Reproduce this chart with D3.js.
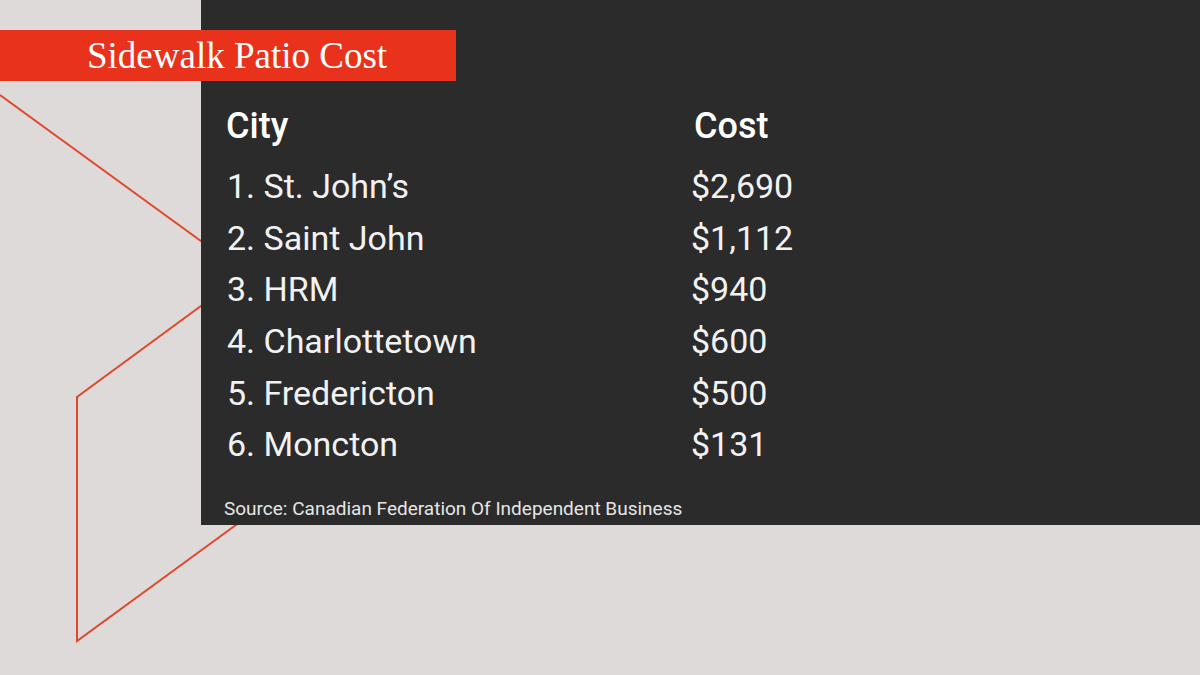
<!DOCTYPE html>
<html><head><meta charset="utf-8">
<script src="https://cdn.jsdelivr.net/npm/d3@7"></script>
<style>body{margin:0;background:#dddad9;}</style>
</head><body>
<script>
const title = "Sidewalk Patio Cost";
const headers = ["City", "Cost"];
const cities = ["St. John’s", "Saint John", "HRM", "Charlottetown", "Fredericton", "Moncton"];
const costs = [2690, 1112, 940, 600, 500, 131];
const source = "Source: Canadian Federation Of Independent Business";

const W = 1200, H = 675;
const svg = d3.select("body").append("svg").attr("width", W).attr("height", H);
svg.append("rect").attr("width", W).attr("height", H).attr("fill", "#dddad9");

// decorative lines
const lc = "#e0472c";
svg.append("path").attr("d", "M0,95 L205,244").attr("stroke", lc).attr("stroke-width", 2).attr("fill", "none");
svg.append("path").attr("d", "M205,303 L77,397 L77,641 L240,522").attr("stroke", lc).attr("stroke-width", 2).attr("fill", "none");

// dark panel
svg.append("rect").attr("x", 201).attr("y", 0).attr("width", 999).attr("height", 525).attr("fill", "#2b2b2b");

// title bar
svg.append("rect").attr("x", 0).attr("y", 30).attr("width", 456).attr("height", 51).attr("fill", "#e8321b");
svg.append("text").attr("x", 87).attr("y", 68).text(title)
  .attr("font-family", "Liberation Serif, DejaVu Serif, serif").attr("font-size", 37).attr("fill", "#fff");

const y = d3.scaleBand().domain(d3.range(cities.length)).range([160, 470]);
const font = "Roboto, sans-serif";
svg.append("text").attr("x", 226).attr("y", 138).text(headers[0]).attr("font-family", font).attr("font-weight", 500).attr("font-size", 36).attr("fill", "#fff");
svg.append("text").attr("x", 694).attr("y", 138).text(headers[1]).attr("font-family", font).attr("font-weight", 500).attr("font-size", 36).attr("fill", "#fff");

const fmt = d3.format("$,");
const rows = svg.selectAll("g.row").data(cities).join("g").attr("class", "row")
  .attr("transform", (d, i) => `translate(0,${y(i) + y.bandwidth() / 2 + 12})`);
rows.append("text").attr("x", 227).text((d, i) => `${i + 1}. ${d}`)
  .attr("font-family", font).attr("font-size", 34).attr("fill", "#f2f2f2");
rows.append("text").attr("x", 691).text((d, i) => fmt(costs[i]))
  .attr("font-family", font).attr("font-size", 34).attr("fill", "#f2f2f2");

svg.append("text").attr("x", 224).attr("y", 515).text(source)
  .attr("font-family", font).attr("font-size", 19).attr("fill", "#e6e6e6");
</script>
</body></html>
